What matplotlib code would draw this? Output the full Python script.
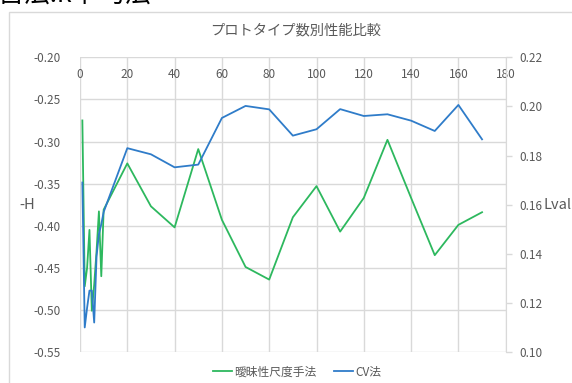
import numpy as np
import matplotlib
matplotlib.use("Agg")
import matplotlib.pyplot as plt
from matplotlib.patches import Rectangle

plt.rcParams['font.family'] = ['Noto Sans CJK JP', 'DejaVu Sans']

# data
x = [1, 2, 3, 4, 5, 6, 7, 8, 9, 10,
     20, 30, 40, 50, 60, 70, 80, 90, 100, 110, 120, 130, 140, 150, 160, 170]
neg_h = [-0.275, -0.472, -0.450, -0.405, -0.501, -0.470, -0.430, -0.383, -0.460, -0.381,
         -0.326, -0.377, -0.402, -0.309, -0.393, -0.449, -0.464, -0.390, -0.353,
         -0.407, -0.367, -0.298, -0.367, -0.435, -0.399, -0.384]
lval = [0.169, 0.110, 0.118, 0.125, 0.125, 0.112, 0.139, 0.148, 0.152, 0.157,
        0.183, 0.1805, 0.1752, 0.1763, 0.1953, 0.2002, 0.1988, 0.1881, 0.1907,
        0.1989, 0.1961, 0.1968, 0.1942, 0.190, 0.2006, 0.1866]
xticks = np.arange(0, 181, 20)
left_ticks = np.arange(-0.55, -0.199, 0.05)
right_ticks = np.arange(0.10, 0.2201, 0.02)

green = '#2DB85E'
blue = '#2F7CC9'
gray = '#595959'
gridc = '#D9D9D9'

fig = plt.figure(figsize=(5.72, 3.83), dpi=100)
ax = fig.add_axes([80 / 572, 1 - 352 / 383, 425.7 / 572, 294.7 / 383])
ax2 = ax.twinx()

# chart frame and cut off heading above it
fig.patches.append(Rectangle((9 / 572, -0.1), 1.2, 1 - 12.3 / 383 + 0.1,
                             transform=fig.transFigure, fill=False,
                             edgecolor=gridc, lw=1.0, zorder=0))
fig.text(-0.004, 1 + 5 / 383, '首法:k平均法', fontsize=19, color='black',
         ha='left', va='center')

l1, = ax.plot(x, neg_h, color=green, lw=1.3, label='曖昧性尺度手法')
l2, = ax2.plot(x, lval, color=blue, lw=1.3, label='CV法')

ax.set_xlim(0, 180)
ax.set_ylim(-0.55, -0.20)
ax2.set_ylim(0.10, 0.22)
ax.set_xticks(xticks)
ax.set_yticks(left_ticks)
ax.set_yticklabels([f'{v:.2f}' for v in left_ticks])
ax2.set_yticks(right_ticks)
ax2.set_yticklabels([f'{v:.2f}' for v in right_ticks])

ax.grid(True, color=gridc, lw=1.0)
ax.set_axisbelow(True)
for s in ax.spines.values():
    s.set_visible(False)
for s in ax2.spines.values():
    s.set_visible(False)
ax2.spines['right'].set_visible(True)
ax2.spines['right'].set_color(gridc)

ax.tick_params(axis='x', top=True, labeltop=True, bottom=False, labelbottom=False,
               length=0, pad=-17, labelsize=8.5, labelcolor=gray)
ax.tick_params(axis='y', length=0, pad=14, labelsize=8.5, labelcolor=gray)
ax2.tick_params(axis='y', length=4, width=1, color=gridc, pad=6,
                labelsize=8.5, labelcolor=gray)

fig.text(27 / 572, 1 - 205 / 383, '-H', fontsize=10.5, color=gray,
         ha='center', va='center')
fig.text(558 / 572, 1 - 205 / 383, 'Lval', fontsize=10.5, color=gray,
         ha='center', va='center')
fig.text(296 / 572, 1 - 30 / 383, 'プロトタイプ数別性能比較', fontsize=10.3,
         color=gray, ha='center', va='center')

fig.legend([l1, l2], ['曖昧性尺度手法', 'CV法'], loc='center',
           bbox_to_anchor=(297 / 572, 1 - 372 / 383), ncol=2, frameon=False,
           fontsize=8.5, labelcolor=gray, handlelength=1.6, handletextpad=0.2,
           columnspacing=1.5)

fig.savefig('out.png', dpi=100)
